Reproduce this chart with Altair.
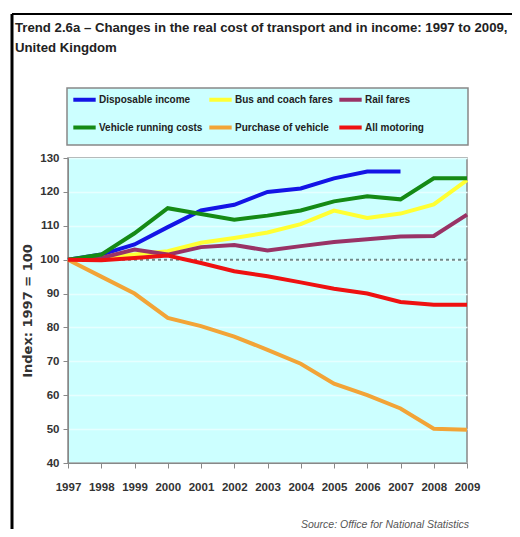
import altair as alt
import pandas as pd

years = list(range(1997, 2010))
series_names = ["Disposable income", "Bus and coach fares", "Rail fares",
                "Vehicle running costs", "Purchase of vehicle", "All motoring"]
series_colors = ["#1414e6", "#ffff33", "#993366", "#158a15", "#f2a437", "#ee1111"]

disposable_income = [100, 101.5, 104.5, 109.6, 114.5, 116.2, 120, 121, 124, 126, 126, None, None]
bus_coach_fares = [100, 100.5, 101.5, 102.5, 105, 106.4, 108, 110.5, 114.5, 112.3, 113.6, 116.3, 123.5]
rail_fares = [100, 100.5, 103, 101.5, 103.7, 104.3, 102.7, 104, 105.2, 106, 106.8, 107, 113.3]
vehicle_running = [100, 101.5, 107.8, 115.2, 113.5, 111.8, 113, 114.5, 117.2, 118.7, 117.8, 124, 124]
purchase_vehicle = [100, 95, 90, 82.8, 80.4, 77.3, 73.4, 69.3, 63.4, 60, 56.1, 50.1, 49.8]
all_motoring = [100, 99.8, 100.5, 101.2, 99, 96.6, 95.1, 93.3, 91.4, 90, 87.5, 86.7, 86.7]
y_ticks = [40, 50, 60, 70, 80, 90, 100, 110, 120, 130]

values = [disposable_income, bus_coach_fares, rail_fares, vehicle_running, purchase_vehicle, all_motoring]
rows = []
for name, vals in zip(series_names, values):
    for y, v in zip(years, vals):
        if v is not None:
            rows.append({"Year": y, "Series": name, "Index": v})
df = pd.DataFrame(rows)

FONT = "Liberation Sans, Arial"
one = pd.DataFrame({"a": [0]})
yscale = alt.Scale(domain=[40, 130], nice=False, zero=False)
yaxis = alt.Axis(values=y_ticks, title="Index: 1997 = 100", labelOverlap=False, labelFlush=False,
                 titleFont="DejaVu Sans", titleFontSize=13, titleFontWeight="bold",
                 titleColor="#333", titlePadding=5,
                 grid=True, gridColor="#e6ffff", gridWidth=1.5,
                 labelFont=FONT, labelFontSize=11.5, labelFontWeight="bold",
                 labelColor="#333", tickColor="#888", domainColor="#888",
                 tickSize=5, labelPadding=4)

lines = alt.Chart(df).mark_line(strokeWidth=4, clip=False).encode(
    x=alt.X("Year:Q", scale=alt.Scale(domain=[1997, 2009], nice=False, zero=False),
            axis=alt.Axis(values=years, format="d", title=None, grid=False,
                          labelOverlap=False, labelFlush=False,
                          labelFont=FONT, labelFontSize=11.5, labelFontWeight="bold",
                          labelColor="#333", tickColor="#888", domainColor="#888",
                          tickSize=5, labelPadding=13)),
    y=alt.Y("Index:Q", scale=yscale, axis=yaxis),
    color=alt.Color("Series:N", scale=alt.Scale(domain=series_names, range=series_colors),
                    legend=alt.Legend(orient="none", legendX=3, legendY=-72, columns=3,
                                      direction="horizontal", title=None, gridAlign="each",
                                      symbolType="stroke", symbolStrokeWidth=4, symbolSize=500,
                                      labelFont=FONT, labelFontSize=10, labelFontWeight="bold",
                                      labelColor="#222", labelOffset=1,
                                      columnPadding=-2, rowPadding=6, padding=0)),
    order=alt.Order("Year:Q"),
)

ref = alt.Chart(pd.DataFrame({"level": [100]})).mark_rule(
    strokeDash=[3, 3], strokeWidth=2, color="#6f8888").encode(
    y=alt.Y("level:Q", scale=yscale, axis=yaxis))

legend_box = alt.Chart(one).mark_rect(fill="#ccffff", stroke="#888", strokeWidth=1.5).encode(
    x=alt.value(-1), x2=alt.value(400), y=alt.value(-70), y2=alt.value(-13))

border_left = alt.Chart(one).mark_rule(color="#000", strokeWidth=3).encode(
    x=alt.value(-56), y=alt.value(-144), y2=alt.value(380))
border_top = alt.Chart(one).mark_rule(color="#000", strokeWidth=2).encode(
    x=alt.value(-56), x2=alt.value(470), y=alt.value(-144))

title1 = alt.Chart(one).mark_text(align="left", baseline="alphabetic", font=FONT,
                                  fontSize=13.2, fontWeight="bold", color="#222").encode(
    x=alt.value(-53), y=alt.value(-126),
    text=alt.value("Trend 2.6a \u2013 Changes in the real cost of transport and in income: 1997 to 2009,"))
title2 = alt.Chart(one).mark_text(align="left", baseline="alphabetic", font=FONT,
                                  fontSize=13.2, fontWeight="bold", color="#222").encode(
    x=alt.value(-53), y=alt.value(-106), text=alt.value("United Kingdom"))
source = alt.Chart(one).mark_text(align="right", baseline="alphabetic", font=FONT,
                                  fontSize=10.5, fontStyle="italic", color="#555").encode(
    x=alt.value(401), y=alt.value(370), text=alt.value("Source: Office for National Statistics"))

chart = alt.layer(legend_box, ref, lines, border_left, border_top, title1, title2, source).properties(
    width=399, height=305,
    autosize=alt.AutoSizeParams(type="none"),
    padding={"left": 60, "top": 150, "right": 45, "bottom": 66},
    background="white",
).configure_view(fill="#ccffff", stroke="#888", strokeWidth=1.5)

chart.save("out.html", embed_options={"renderer": "svg", "actions": False})
